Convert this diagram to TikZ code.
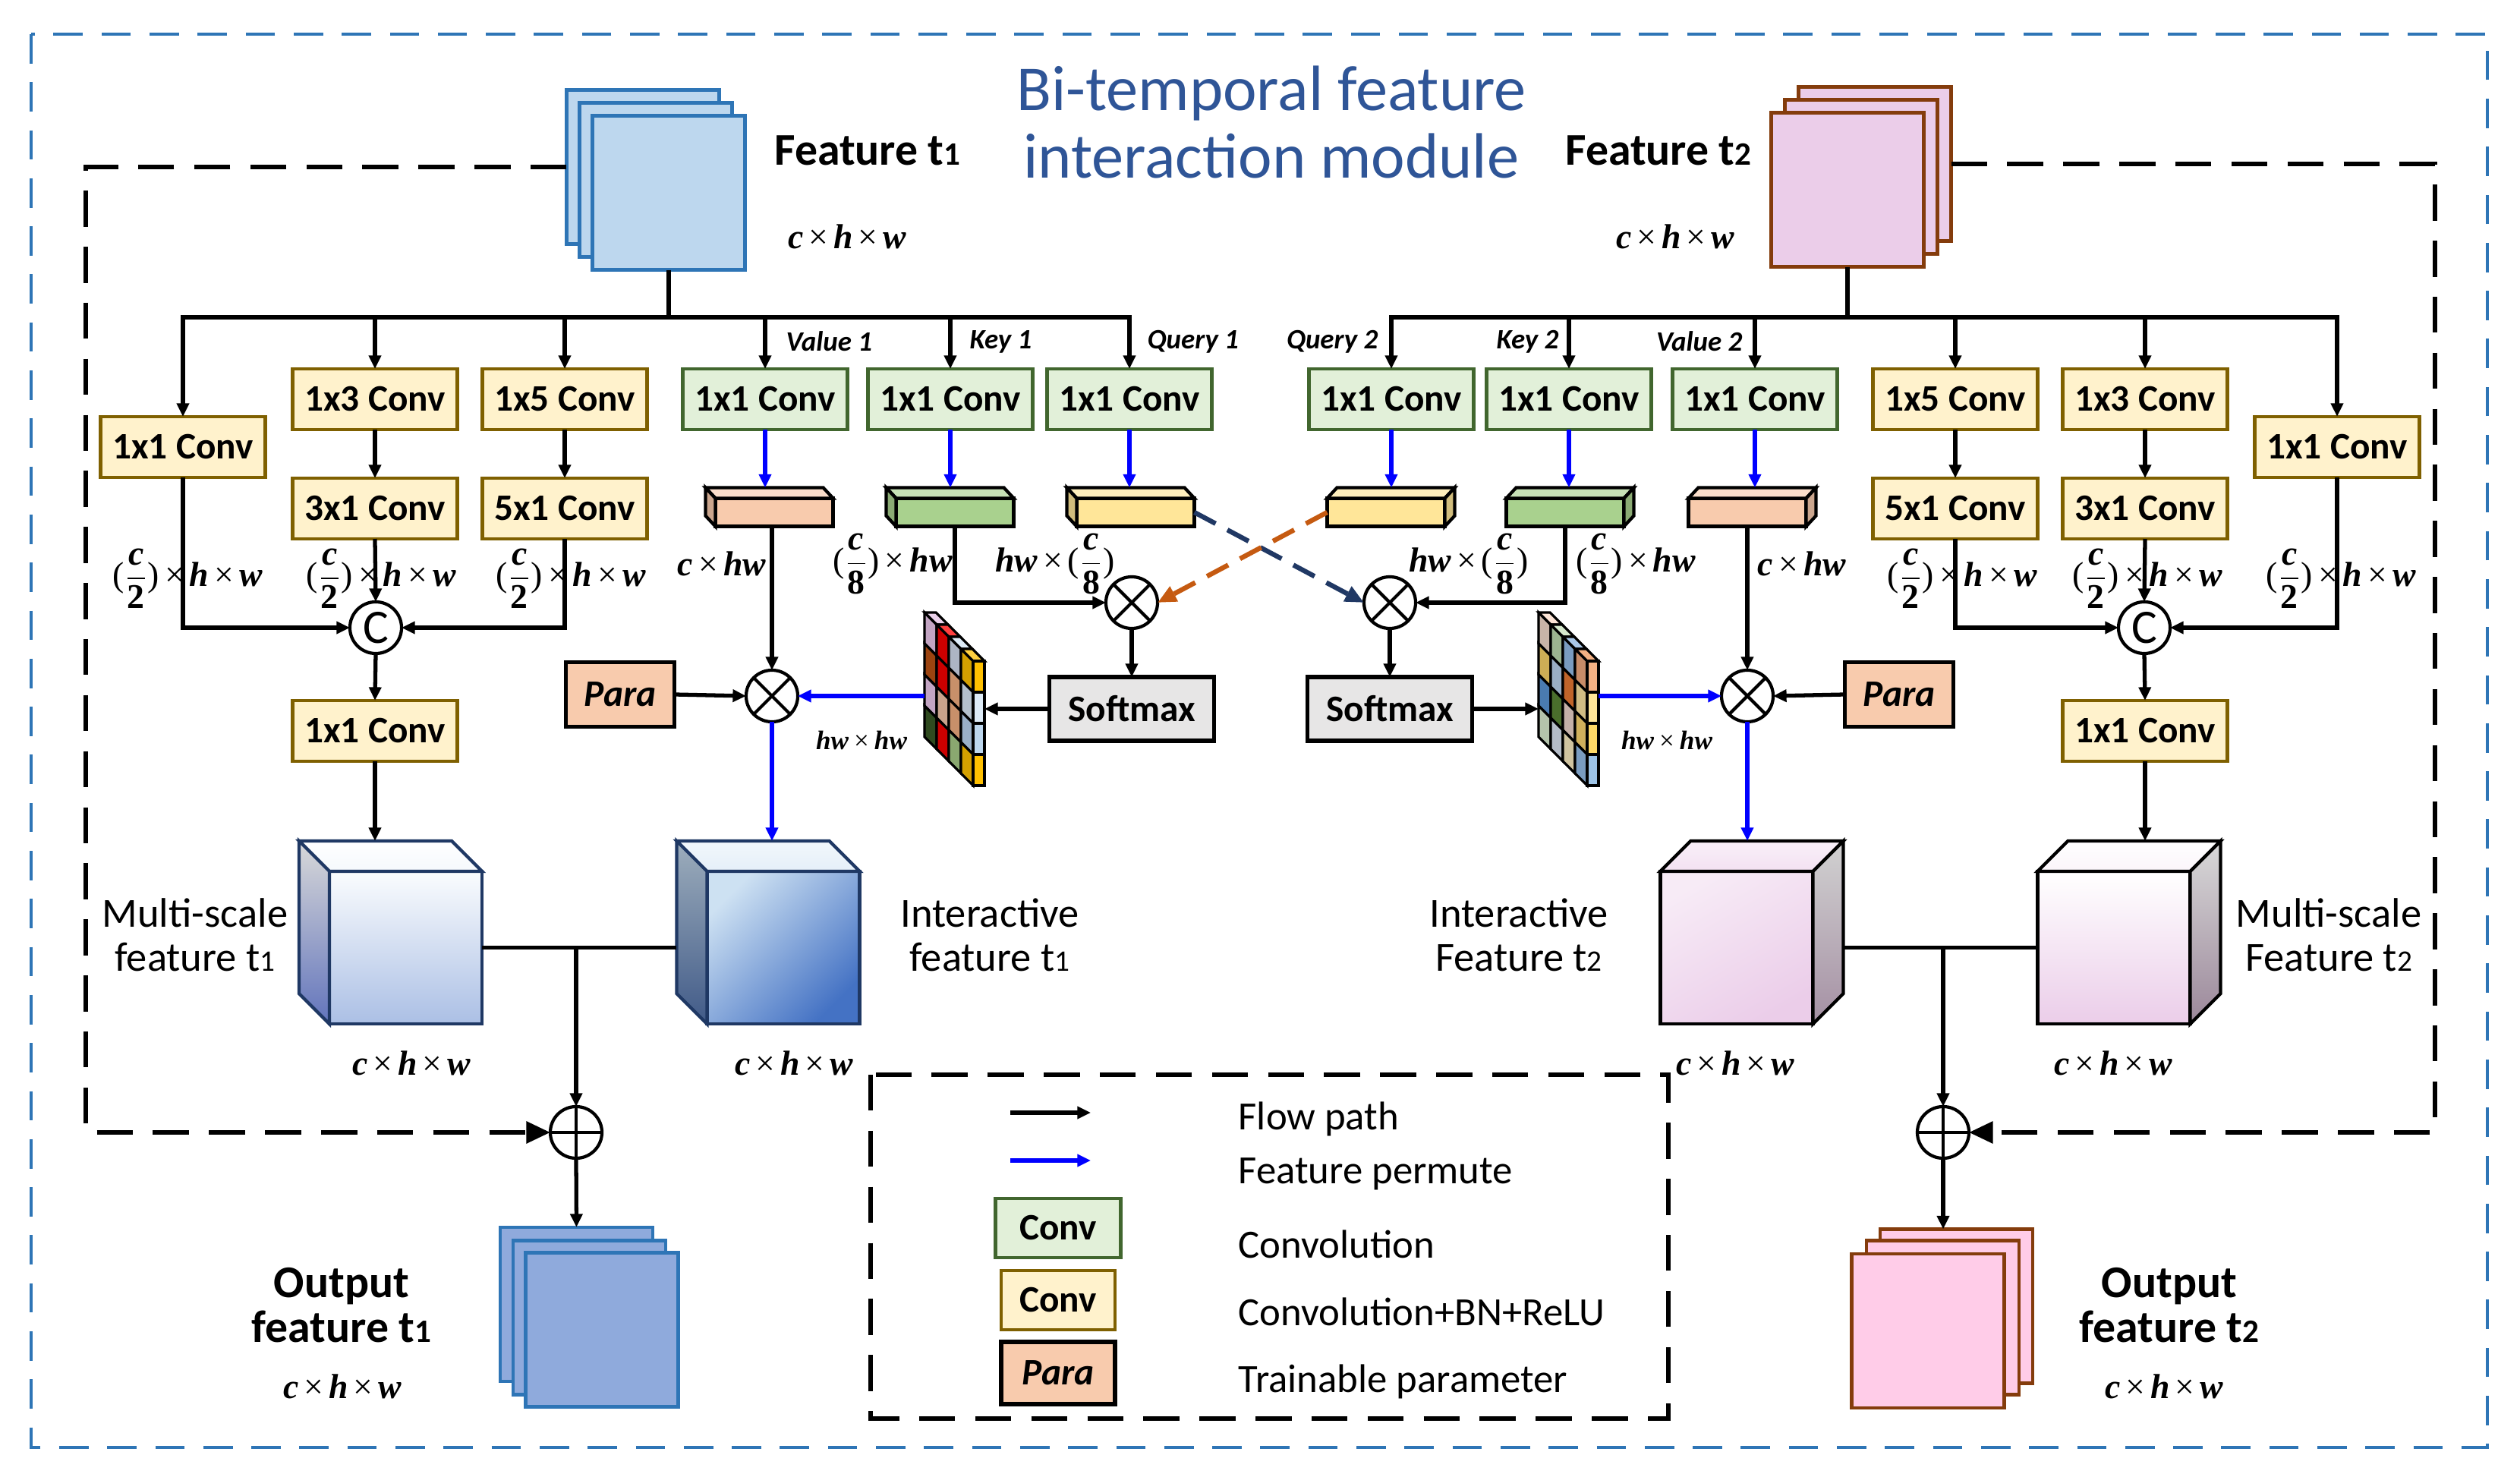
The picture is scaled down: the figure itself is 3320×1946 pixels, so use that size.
\documentclass[tikz,border=0pt]{standalone}
\usepackage{fontspec}
\usepackage{graphicx}
\setmainfont{Carlito}
\newfontfamily\dimf{Liberation Serif}
\usetikzlibrary{arrows.meta,calc}

\definecolor{framebl}{HTML}{2E75B6}
\definecolor{titlebl}{HTML}{2F5597}
\definecolor{convgf}{HTML}{E2F0D9}
\definecolor{convgd}{HTML}{41662E}
\definecolor{convyf}{HTML}{FFF2CC}
\definecolor{convyd}{HTML}{7F6000}
\definecolor{parafill}{HTML}{F8CBAD}
\definecolor{softfill}{HTML}{E7E6E6}
\definecolor{featbl}{HTML}{BDD7EE}
\definecolor{outbl}{HTML}{8FAADC}
\definecolor{featpk}{HTML}{EBCDE9}
\definecolor{outpk}{HTML}{FFCCE8}
\definecolor{brownln}{HTML}{843C0C}
\definecolor{navyd}{HTML}{203864}
\definecolor{orangd}{HTML}{C55A11}
\definecolor{cubeln}{HTML}{1F3864}
\definecolor{itblue}{HTML}{4472C4}

\newcommand\dimv[1]{{\dimf\bfseries\itshape #1}}
\newcommand\tms{{\dimf\kern2pt×\kern2pt}}
\newcommand\chw{\dimv{c}\tms\dimv{h}\tms\dimv{w}}
\newcommand\frc[1]{{\dimf(}$\displaystyle\frac{\mbox{\dimv{c}}}{\mbox{\dimf\bfseries #1}}${\dimf)}}
\newcommand\smidx[1]{\scalebox{0.72}{#1}}

\tikzset{
  convg/.style={draw=convgd, fill=convgf, line width=1.2pt, minimum width=2.17cm, minimum height=0.8cm, inner sep=0pt, font=\fontsize{14}{16}\selectfont\bfseries},
  convy/.style={convg, draw=convyd, fill=convyf},
  parabox/.style={draw, fill=parafill, line width=1.6pt, minimum width=1.43cm, minimum height=0.85cm, inner sep=0pt, font=\fontsize{14}{16}\selectfont\bfseries\itshape},
  softbox/.style={draw, fill=softfill, line width=1.6pt, minimum width=2.17cm, minimum height=0.84cm, inner sep=0pt, font=\fontsize{14}{16}\selectfont\bfseries},
  opnode/.style={circle, draw, fill=white, line width=1.2pt, minimum size=0.68cm, inner sep=0pt},
  mulop/.style={opnode, path picture={\draw[line width=1.2pt] (path picture bounding box.north west) -- (path picture bounding box.south east) (path picture bounding box.south west) -- (path picture bounding box.north east);}},
  addop/.style={opnode, path picture={\draw[line width=1.2pt] (path picture bounding box.north) -- (path picture bounding box.south) (path picture bounding box.west) -- (path picture bounding box.east);}},
  catop/.style={opnode, font=\fontsize{18}{18}\selectfont},
  sheet/.style={draw, line width=1.3pt, minimum width=2.01cm, minimum height=2.03cm},
  cubeface/.style={draw, line width=1.2pt, minimum width=2.01cm, minimum height=2.01cm},
  faceln/.style={line width=1.2pt},
  bar/.style={draw, line width=1.2pt, minimum width=1.55cm, minimum height=0.37cm},
  flow/.style={-{Triangle[length=5pt,width=4.5pt]}, line width=1.5pt},
  perm/.style={flow, blue},
  loopln/.style={-{Triangle[length=9pt,width=8pt]}, line width=1.7pt, dash pattern=on 13.5pt off 7.5pt},
  crossln/.style={-{Triangle[length=7pt,width=6pt]}, line width=1.8pt, dash pattern=on 9pt off 5pt},
  framebox/.style={draw=framebl, line width=1.4pt, dash pattern=on 11pt off 7pt},
  legbox/.style={draw, line width=1.7pt, dash pattern=on 13.5pt off 7.5pt},
  titletxt/.style={align=center, text=titlebl, font=\fontsize{24}{25.5}\selectfont},
  headlab/.style={align=center, font=\fontsize{17}{16.8}\selectfont\bfseries},
  dimlab/.style={font=\fontsize{13}{15}\selectfont},
  smalldim/.style={font=\fontsize{10}{12}\selectfont},
  qkv/.style={font=\fontsize{10.5}{12}\selectfont\bfseries\itshape},
  cubelab/.style={align=center, font=\fontsize{15.5}{16.5}\selectfont},
  legtxt/.style={anchor=west, font=\fontsize{15}{17}\selectfont},
}

\begin{document}
\begin{tikzpicture}[x=0.01cm, y=-0.01cm, every node/.style={outer sep=0pt}]
    \useasboundingbox (0,0) rectangle (3320,1946);

    % frame and title
    \draw[framebox] (41,45) rectangle (3277,1907);
    \node[titletxt] (title) at (1675,161) {Bi-temporal feature\\interaction module};

    % input features
    \node[sheet, draw=framebl, fill=featbl] (fk1) at (847,220) {};
    \node[sheet, draw=framebl, fill=featbl] (fm1) at (864,237) {};
    \node[sheet, draw=framebl, fill=featbl] (ft1) at (881,254) {};
    \node[headlab] (lt1) at (1143,198) {Feature t\smidx{1}};
    \node[dimlab] (dt1) at (1116,312) {\chw};

    \node[sheet, draw=brownln, fill=featpk] (fk2) at (2470,216) {};
    \node[sheet, draw=brownln, fill=featpk] (fm2) at (2452,233) {};
    \node[sheet, draw=brownln, fill=featpk] (ft2) at (2434,250) {};
    \node[headlab] (lt2) at (2185,198) {Feature t\smidx{2}};
    \node[dimlab] (dt2) at (2207,312) {\chw};

    % branches of t1
    \node[convy] (cl1) at (241,589) {1x1 Conv};
    \node[convy] (c13) at (494,526) {1x3 Conv};
    \node[convy] (c15) at (744,526) {1x5 Conv};
    \node[convg] (v1) at (1008,526) {1x1 Conv};
    \node[convg] (k1) at (1252,526) {1x1 Conv};
    \node[convg] (q1) at (1488,526) {1x1 Conv};
    \node[convy] (c31) at (494,670) {3x1 Conv};
    \node[convy] (c51) at (744,670) {5x1 Conv};
    \node[catop] (cat1) at (495,827) {C};
    \node[convy] (cf1) at (494,963) {1x1 Conv};
    \node[qkv, anchor=west] (lv1) at (1024,450) {Value 1};
    \node[qkv, anchor=west] (lk1) at (1266,450) {Key 1};
    \node[qkv, anchor=west] (lq1) at (1500,450) {Query 1};

    \coordinate (bus1) at (881,418);
    \draw[line width=1.5pt] (ft1.south) -- (bus1);
    \draw[flow] (bus1) -| (cl1.north);
    \draw[flow] (bus1) -| (q1.north);
    \foreach \n in {c13,c15,v1,k1}
        \draw[flow] (bus1 -| \n.north) -- (\n.north);
    \draw[flow] (c13.south) -- (c31.north);
    \draw[flow] (c15.south) -- (c51.north);
    \draw[flow] (c31.south) -- (cat1.north);
    \draw[flow] (cl1.south) |- (cat1.west);
    \draw[flow] (c51.south) |- (cat1.east);
    \draw[flow] (cat1.south) -- (cf1.north);
    \node[dimlab] (d11) at (247,762) {\frc{2}\tms\dimv{h}\tms\dimv{w}};
    \node[dimlab] (d12) at (502,762) {\frc{2}\tms\dimv{h}\tms\dimv{w}};
    \node[dimlab] (d13) at (752,762) {\frc{2}\tms\dimv{h}\tms\dimv{w}};

    % branches of t2
    \node[convg] (q2) at (1833,526) {1x1 Conv};
    \node[convg] (k2) at (2067,526) {1x1 Conv};
    \node[convg] (v2) at (2312,526) {1x1 Conv};
    \node[convy] (c25) at (2576,526) {1x5 Conv};
    \node[convy] (c23) at (2826,526) {1x3 Conv};
    \node[convy] (cl2) at (3079,589) {1x1 Conv};
    \node[convy] (c52) at (2576,670) {5x1 Conv};
    \node[convy] (c32) at (2826,670) {3x1 Conv};
    \node[catop] (cat2) at (2825,827) {C};
    \node[convy] (cf2) at (2826,963) {1x1 Conv};
    \node[qkv, anchor=east] (lq2) at (1827,450) {Query 2};
    \node[qkv, anchor=east] (lk2) at (2065,450) {Key 2};
    \node[qkv, anchor=east] (lv2) at (2307,450) {Value 2};

    \coordinate (bus2) at (2434,418);
    \draw[line width=1.5pt] (ft2.south) -- (bus2);
    \draw[flow] (bus2) -| (q2.north);
    \draw[flow] (bus2) -| (cl2.north);
    \foreach \n in {k2,v2,c25,c23}
        \draw[flow] (bus2 -| \n.north) -- (\n.north);
    \draw[flow] (c25.south) -- (c52.north);
    \draw[flow] (c23.south) -- (c32.north);
    \draw[flow] (c32.south) -- (cat2.north);
    \draw[flow] (cl2.south) |- (cat2.east);
    \draw[flow] (c52.south) |- (cat2.west);
    \draw[flow] (cat2.south) -- (cf2.north);
    \node[dimlab] (d21) at (2585,762) {\frc{2}\tms\dimv{h}\tms\dimv{w}};
    \node[dimlab] (d22) at (2829,762) {\frc{2}\tms\dimv{h}\tms\dimv{w}};
    \node[dimlab] (d23) at (3084,762) {\frc{2}\tms\dimv{h}\tms\dimv{w}};

    % reshaped features
    \foreach \bn/\bx/\bc/\bd/\bs in {vb1/1020/F8CBAD/-13/west, kb1/1258/A9D18E/-13/west, qb1/1496/FFE699/-13/west,
                                    qb2/1826/FFE699/13/east, kb2/2062/A9D18E/13/east, vb2/2302/F8CBAD/13/east}{
        \definecolor{barc}{HTML}{\bc}
        \node[bar, fill=barc] (\bn) at (\bx,675) {};
        \filldraw[faceln, fill=barc!65!white] (\bn.north west) -- ++(\bd,-14) -- ($(\bn.north east)+(\bd,-14)$) -- (\bn.north east) -- cycle;
        \filldraw[faceln, fill=barc!82!black] (\bn.north \bs) -- ++(\bd,-14) -- ($(\bn.south \bs)+(\bd,-14)$) -- (\bn.south \bs) -- cycle;
    }
    \foreach \n/\b in {v1/vb1, k1/kb1, q1/qb1, q2/qb2, k2/kb2, v2/vb2}
        \draw[perm] (\n.south) -- ($(\n.south |- \b.north)+(0,-14)$);

    \node[dimlab] (dv1) at (951,743) {\dimv{c}\tms\dimv{hw}};
    \node[dimlab] (dk1) at (1176,743) {\frc{8}\tms\dimv{hw}};
    \node[dimlab] (dq1) at (1390,743) {\dimv{hw}\tms\frc{8}};
    \node[dimlab] (dq2) at (1935,743) {\dimv{hw}\tms\frc{8}};
    \node[dimlab] (dk2) at (2155,743) {\frc{8}\tms\dimv{hw}};
    \node[dimlab] (dv2) at (2374,743) {\dimv{c}\tms\dimv{hw}};

    % attention of t1
    \node[mulop] (om1) at (1491,794) {};
    \node[softbox] (sm1) at (1491,934) {Softmax};
    \node[mulop] (ov1) at (1017,917) {};
    \node[parabox] (pa1) at (817,915) {Para};
    \node[inner sep=0pt, minimum width=0.79cm, minimum height=2.28cm] (mat1) at (1257.5,921) {};
    \foreach \ca/\cb/\cc/\cd/\cp [count=\ci from 0] in {C3A5C3/9C4410/C3A5C3/2F4A1F/EAD1EA, CC0000/CC0000/C9A38C/CC0000/FF4040,
                                                     ADB5C4/C8906A/C8906A/8AA870/DDEBF7, D4A000/B4C0CC/9AB0C8/D4A000/FFD040}{
        \foreach \cl [count=\rw from 0] in {\ca,\cb,\cc,\cd}{
            \definecolor{cellc}{HTML}{\cl}
            \filldraw[fill=cellc, line width=0.9pt] (1218+16*\ci,807+16*\ci+41*\rw) -- ++(16,16) -- ++(0,41) -- ++(-16,-16) -- cycle;
        }
        \definecolor{cellc}{HTML}{\cp}
        \filldraw[fill=cellc, line width=0.9pt] (1218+16*\ci,807+16*\ci) -- ++(15,0) -- ++(16,16) -- ++(-15,0) -- cycle;
    }
    \foreach \cl [count=\rw from 0] in {FFC000,DDEBF7,BDD7EE,FFC000}{
        \definecolor{cellc}{HTML}{\cl}
        \filldraw[fill=cellc, line width=0.9pt] (1282,871+41*\rw) rectangle ++(15,41);
    }
    \node[smalldim] (dm1) at (1135,975) {\dimv{hw}\tms\dimv{hw}};

    \draw[flow] (ov1 |- vb1.south) -- (ov1.north);
    \draw[flow] (kb1.south) |- (om1.west);
    \draw[flow] (om1.south) -- (sm1.north);
    \draw[flow] (sm1.west) -- (sm1.west -| mat1.east);
    \draw[perm] (mat1.west |- ov1) -- (ov1.east);
    \draw[flow] (pa1.east) -- (ov1.west);

    % attention of t2
    \node[mulop] (om2) at (1831,794) {};
    \node[softbox] (sm2) at (1831,934) {Softmax};
    \node[mulop] (ov2) at (2302,917) {};
    \node[parabox] (pa2) at (2502,915) {Para};
    \node[inner sep=0pt, minimum width=0.79cm, minimum height=2.28cm] (mat2) at (2066.5,921) {};
    \foreach \ca/\cb/\cc/\cd/\cp [count=\ci from 0] in {C8B4A8/CDAE56/4A7BB0/B4C4AC/FCE4D6, 9CB490/9AAEC4/4A6E2C/B4BCC8/D5E8CC,
                                                     7A9CC0/C0642A/C4B0A8/D0C4A0/A9C8E8, C88C68/D0BC84/D0B05C/7A9CC0/F4B183}{
        \foreach \cl [count=\rw from 0] in {\ca,\cb,\cc,\cd}{
            \definecolor{cellc}{HTML}{\cl}
            \filldraw[fill=cellc, line width=0.9pt] (2027+16*\ci,807+16*\ci+41*\rw) -- ++(16,16) -- ++(0,41) -- ++(-16,-16) -- cycle;
        }
        \definecolor{cellc}{HTML}{\cp}
        \filldraw[fill=cellc, line width=0.9pt] (2027+16*\ci,807+16*\ci) -- ++(15,0) -- ++(16,16) -- ++(-15,0) -- cycle;
    }
    \foreach \cl [count=\rw from 0] in {F4B183,FFE699,FFD966,9DC3E6}{
        \definecolor{cellc}{HTML}{\cl}
        \filldraw[fill=cellc, line width=0.9pt] (2091,871+41*\rw) rectangle ++(15,41);
    }
    \node[smalldim] (dm2) at (2196,975) {\dimv{hw}\tms\dimv{hw}};

    \draw[flow] (ov2 |- vb2.south) -- (ov2.north);
    \draw[flow] (kb2.south) |- (om2.east);
    \draw[flow] (om2.south) -- (sm2.north);
    \draw[flow] (sm2.east) -- (sm2.east -| mat2.west);
    \draw[perm] (mat2.east |- ov2) -- (ov2.west);
    \draw[flow] (pa2.west) -- (ov2.east);

    % crossed queries
    \draw[crossln, draw=navyd] (qb1.east) -- (om2.west);
    \draw[crossln, draw=orangd] (qb2.west) -- (om1.east);

    % feature cubes of t1
    \node[cubeface, draw=cubeln, top color=white!93!featbl, bottom color=outbl!75!white] (ms1) at (534.5,1248.5) {};
    \shadedraw[faceln, draw=cubeln, top color=white, bottom color=white!85!featbl] (ms1.north west) -- ++(-40,-40) -- ($(ms1.north east)+(-40,-40)$) -- (ms1.north east) -- cycle;
    \shadedraw[faceln, draw=cubeln, top color=black!15, bottom color=black!20!outbl!85!blue] (ms1.north west) -- ++(-40,-40) -- ($(ms1.south west)+(-40,-40)$) -- (ms1.south west) -- cycle;
    \coordinate (ms1top) at ($(ms1.north)+(-40,-40)$);

    \node[cubeface, draw=cubeln, top color=featbl!75!white, bottom color=itblue, shading angle=45] (it1) at (1032,1248.5) {};
    \shadedraw[faceln, draw=cubeln, top color=white!80!featbl, bottom color=white!60!featbl] (it1.north west) -- ++(-40,-40) -- ($(it1.north east)+(-40,-40)$) -- (it1.north east) -- cycle;
    \shadedraw[faceln, draw=cubeln, top color=black!10!featbl!70!gray, bottom color=cubeln!70!outbl] (it1.north west) -- ++(-40,-40) -- ($(it1.south west)+(-40,-40)$) -- (it1.south west) -- cycle;
    \coordinate (it1top) at ($(it1.north)+(-40,-40)$);

    \node[cubelab] (lm1) at (257,1232) {Multi-scale\\feature t\smidx{1}};
    \node[cubelab] (li1) at (1304,1232) {Interactive\\feature t\smidx{1}};
    \node[dimlab] (dc11) at (542,1401) {\chw};
    \node[dimlab] (dc12) at (1046,1401) {\chw};

    \draw[flow] (cf1.south) -- (cf1.south |- ms1top);
    \draw[perm] (ov1.south) -- (ov1 |- it1top);
    \draw[line width=1.5pt] (ms1.east) -- ($(it1.west)+(-40,0)$);

    % feature cubes of t2
    \node[cubeface, top color=white!60!featpk, bottom color=featpk, shading angle=30] (it2) at (2288,1248.5) {};
    \shadedraw[faceln, top color=white!70!featpk, bottom color=white!40!featpk] (it2.north west) -- ++(40,-40) -- ($(it2.north east)+(40,-40)$) -- (it2.north east) -- cycle;
    \shadedraw[faceln, top color=black!18, bottom color=black!22!featpk!90!black] (it2.north east) -- ++(40,-40) -- ($(it2.south east)+(40,-40)$) -- (it2.south east) -- cycle;
    \coordinate (it2top) at ($(it2.north)+(40,-40)$);

    \node[cubeface, top color=white, bottom color=featpk] (ms2) at (2785,1248.5) {};
    \shadedraw[faceln, top color=white, bottom color=white!80!featpk] (ms2.north west) -- ++(40,-40) -- ($(ms2.north east)+(40,-40)$) -- (ms2.north east) -- cycle;
    \shadedraw[faceln, top color=black!15, bottom color=black!25!featpk!88!black] (ms2.north east) -- ++(40,-40) -- ($(ms2.south east)+(40,-40)$) -- (ms2.south east) -- cycle;
    \coordinate (ms2top) at ($(ms2.north)+(40,-40)$);

    \node[cubelab] (li2) at (2001,1232) {Interactive\\Feature t\smidx{2}};
    \node[cubelab] (lm2) at (3068,1232) {Multi-scale\\Feature t\smidx{2}};
    \node[dimlab] (dc21) at (2286,1401) {\chw};
    \node[dimlab] (dc22) at (2784,1401) {\chw};

    \draw[flow] (cf2.south) -- (cf2.south |- ms2top);
    \draw[perm] (ov2.south) -- (ov2 |- it2top);
    \draw[line width=1.5pt] ($(it2.east)+(40,0)$) -- (ms2.west);

    % fusion and outputs
    \node[addop] (add1) at (759,1492) {};
    \node[addop] (add2) at (2560,1492) {};
    \draw[flow] (add1 |- ms1.east) -- (add1.north);
    \draw[flow] (add2 |- ms2.west) -- (add2.north);
    \coordinate (lp1) at (113,1492);
    \coordinate (lp2) at (3208,1492);
    \draw[loopln] (fk1.west) -| (lp1) -- (add1.west);
    \draw[loopln] (fk2.east) -| (lp2) -- (add2.east);

    \node[sheet, draw=framebl, fill=outbl] (ob1) at (759.5,1718.5) {};
    \node[sheet, draw=framebl, fill=outbl] (om1s) at (776.5,1736) {};
    \node[sheet, draw=framebl, fill=outbl] (of1) at (793,1752) {};
    \node[headlab] (lo1) at (450,1720) {Output\\feature t\smidx{1}};
    \node[dimlab] (do1) at (451,1827) {\chw};
    \draw[flow] (add1.south) -- (ob1.north);

    \node[sheet, draw=brownln, fill=outpk] (ob2) at (2577.5,1721) {};
    \node[sheet, draw=brownln, fill=outpk] (om2s) at (2559.5,1736) {};
    \node[sheet, draw=brownln, fill=outpk] (of2) at (2540,1753.5) {};
    \node[headlab] (lo2) at (2858,1720) {Output\\feature t\smidx{2}};
    \node[dimlab] (do2) at (2851,1827) {\chw};
    \draw[flow] (add2.south) -- (add2 |- ob2.north);

    % legend
    \draw[legbox] (1147,1416) rectangle (2198,1869);
    \coordinate (lga) at (1331,1466);
    \coordinate (lgb) at (1437,1466);
    \coordinate (lgc) at (1331,1529);
    \coordinate (lgd) at (1437,1529);
    \draw[flow] (lga) -- (lgb);
    \draw[perm] (lgc) -- (lgd);
    \node[convg, minimum width=1.65cm, minimum height=0.78cm] (lgg) at (1394,1618) {Conv};
    \node[convy, minimum width=1.5cm, minimum height=0.78cm] (lgy) at (1394,1713) {Conv};
    \node[parabox, minimum width=1.5cm, minimum height=0.82cm] (lgp) at (1394,1809) {Para};
    \node[legtxt] (lt01) at (1620,1474) {Flow path};
    \node[legtxt] (lt02) at (1620,1547) {Feature permute};
    \node[legtxt] (lt03) at (1620,1639) {Convolution};
    \node[legtxt] (lt04) at (1620,1728) {Convolution+BN+ReLU};
    \node[legtxt] (lt05) at (1620,1820) {Trainable parameter};
\end{tikzpicture}
\end{document}
